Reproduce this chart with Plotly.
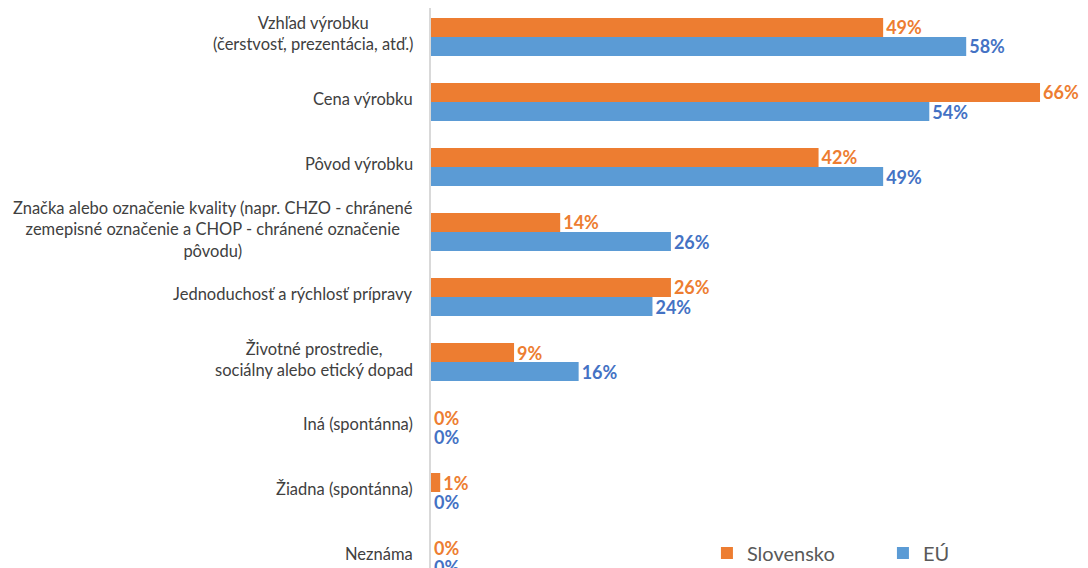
import plotly.graph_objects as go

categories = [
    "Vzhľad výrobku<br>(čerstvosť, prezentácia, atď.)",
    "Cena výrobku",
    "Pôvod výrobku",
    "Značka alebo označenie kvality (napr. CHZO - chránené<br>zemepisné označenie a CHOP - chránené označenie<br>pôvodu)",
    "Jednoduchosť a rýchlosť prípravy",
    "Životné prostredie,<br>sociálny alebo etický dopad",
    "Iná (spontánna)",
    "Žiadna (spontánna)",
    "Neznáma",
]
slovensko = [49, 66, 42, 14, 26, 9, 0, 1, 0]
eu = [58, 54, 49, 26, 24, 16, 0, 0, 0]

ORANGE = "#ED7D31"
BLUE = "#5B9BD5"
BLUE_TXT = "#4472C4"
FONT = "Lato"

fig = go.Figure()
fig.add_trace(go.Bar(
    name="Slovensko", y=categories, x=slovensko, orientation="h",
    marker=dict(color=ORANGE, line=dict(width=0)),
    text=[f"{v}%" for v in slovensko], textposition="outside",
    textfont=dict(family=FONT, size=18, color=ORANGE, weight="bold"),
    cliponaxis=False, constraintext="none",
))
fig.add_trace(go.Bar(
    name="EÚ", y=categories, x=eu, orientation="h",
    marker=dict(color=BLUE, line=dict(width=0)),
    text=[f"{v}%" for v in eu], textposition="outside",
    textfont=dict(family=FONT, size=18, color=BLUE_TXT, weight="bold"),
    cliponaxis=False, constraintext="none",
))

for c in categories:
    fig.add_annotation(
        x=0, xref="paper", y=c, yref="y", xanchor="right", yanchor="middle",
        xshift=-16, yshift=3, text=c, showarrow=False, align="center",
        font=dict(family=FONT, size=16.5, color="#404040"),
    )

# the page body adds an 8px offset, so the figure is 8px smaller than the window
fig.update_layout(
    width=1080, height=560,
    margin=dict(l=423, r=0, t=0, b=0, autoexpand=False),
    plot_bgcolor="white", paper_bgcolor="white",
    barmode="group", bargap=0.415, bargroupgap=0,
    showlegend=True,
    legend=dict(
        orientation="h", x=0.42, xanchor="left", y=-0.008, yanchor="bottom",
        font=dict(family=FONT, size=20, color="#595959"),
        bgcolor="rgba(0,0,0,0)", entrywidth=131, entrywidthmode="pixels",
    ),
    xaxis=dict(range=[0, 71.2], visible=False, showgrid=False, zeroline=False),
    yaxis=dict(
        type="category", categoryorder="array", categoryarray=categories,
        range=[8.169, -0.446], showticklabels=False, showgrid=False,
        showline=True, linecolor="#D9D9D9", linewidth=2, zeroline=False,
        ticks="",
    ),
    font=dict(family=FONT),
)

fig.write_html("out.html")
